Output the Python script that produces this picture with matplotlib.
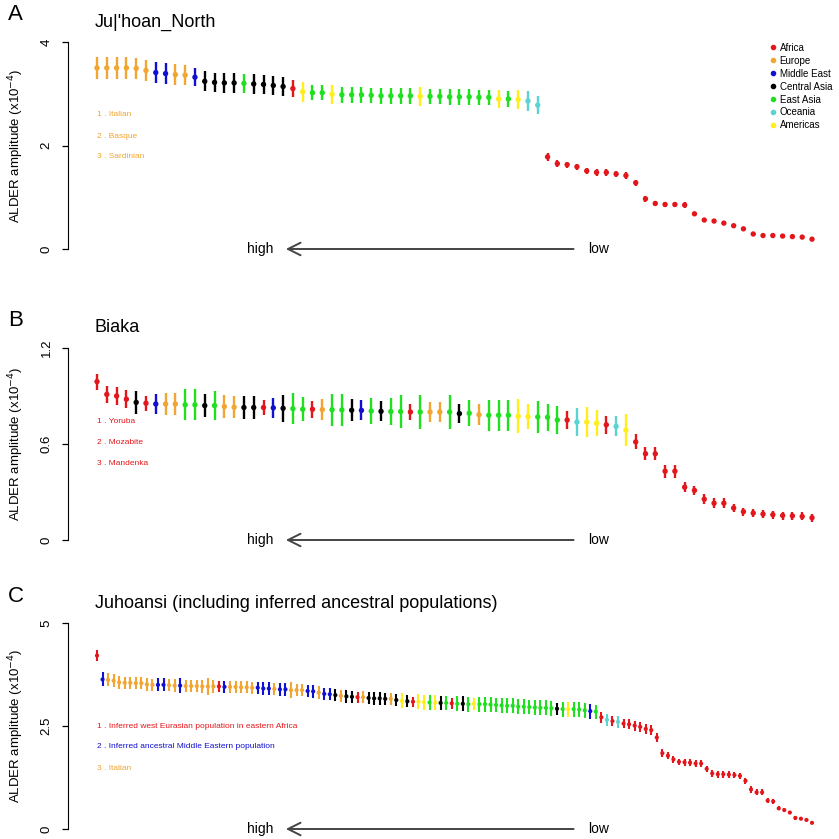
import numpy as np
import matplotlib
matplotlib.use("Agg")
import matplotlib.pyplot as plt
import matplotlib.transforms as mtransforms
from matplotlib.lines import Line2D

plt.rcParams['font.family'] = ['Liberation Sans', 'DejaVu Sans']

# ----------------------------------
# Data
# ----------------------------------

region_names = ["Africa", "Europe", "Middle East", "Central Asia", "East Asia", "Oceania", "Americas"]
region_colors = {"R": "#E3161B", "O": "#F2A531", "B": "#1010D0", "K": "#000000",
                 "G": "#1EE01E", "C": "#5CD3D3", "Y": "#FFEE1A"}
legend_codes = ["R", "O", "B", "K", "G", "C", "Y"]

# panel A: Ju|'hoan_North
a_groups = ("OOOOOO" "BB" "OO" "B" "KKKK" "G" "KKKK" "R" "Y" "GG" "Y" "GGGGGGGG" "Y"
            "GGGGGGG" "Y" "G" "Y" "CC" + "R" * 28)
a_vals = [3.50, 3.50, 3.50, 3.50, 3.49, 3.45, 3.41, 3.39, 3.37, 3.36,
          3.32, 3.24, 3.22, 3.21, 3.21, 3.20, 3.19, 3.18, 3.16, 3.14,
          3.10, 3.04, 3.02, 3.02, 2.99, 2.98, 2.98, 2.98, 2.97, 2.96,
          2.96, 2.96, 2.96, 2.95, 2.95, 2.95, 2.94, 2.94, 2.94, 2.93,
          2.93, 2.90, 2.90, 2.89, 2.86, 2.78, 1.78, 1.65, 1.63, 1.59,
          1.51, 1.48, 1.48, 1.45, 1.42, 1.28, 0.97, 0.88, 0.86, 0.86,
          0.85, 0.68, 0.56, 0.54, 0.50, 0.45, 0.39, 0.29, 0.26, 0.26,
          0.25, 0.24, 0.23, 0.19]
a_err = [0.21, 0.21, 0.21, 0.21, 0.21, 0.21, 0.20, 0.20, 0.20, 0.19,
         0.17, 0.19, 0.19, 0.19, 0.19, 0.19, 0.19, 0.19, 0.18, 0.18,
         0.17, 0.19, 0.15, 0.15, 0.18, 0.15, 0.15, 0.15, 0.15, 0.15,
         0.15, 0.15, 0.15, 0.18, 0.15, 0.15, 0.15, 0.15, 0.15, 0.15,
         0.15, 0.18, 0.15, 0.18, 0.19, 0.18, 0.08, 0.07, 0.06, 0.06,
         0.06, 0.06, 0.06, 0.06, 0.06, 0.06, 0.06, 0.05, 0.05, 0.05,
         0.05, 0.03, 0.03, 0.03, 0.03, 0.03, 0.03, 0.02, 0.02, 0.02,
         0.02, 0.02, 0.02, 0.02]
a_notes = ["1 . Italian", "2 . Basque", "3 . Sardinian"]

# panel B: Biaka
b_groups = ("RRRR" "K" "R" "B" "OO" "GG" "K" "G" "OO" "KK" "R" "B" "K" "GG" "R" "O" "GG"
            "K" "B" "G" "K" "GG" "R" "G" "OO" "G" "K" "G" "O" "GGG" "YY" "GGG" "R" "C"
            "YY" "R" "C" "Y" + "R" * 19)
b_vals = [0.990, 0.910, 0.900, 0.880, 0.860, 0.855, 0.850, 0.850, 0.850, 0.845,
          0.845, 0.840, 0.840, 0.834, 0.830, 0.828, 0.828, 0.828, 0.826, 0.823,
          0.821, 0.817, 0.817, 0.815, 0.814, 0.813, 0.811, 0.810, 0.806, 0.804,
          0.803, 0.803, 0.800, 0.800, 0.800, 0.800, 0.800, 0.790, 0.792, 0.783,
          0.780, 0.780, 0.780, 0.773, 0.771, 0.769, 0.767, 0.750, 0.750, 0.737,
          0.737, 0.730, 0.720, 0.710, 0.687, 0.613, 0.539, 0.539, 0.430, 0.430,
          0.330, 0.310, 0.255, 0.230, 0.230, 0.200, 0.177, 0.168, 0.162, 0.158,
          0.153, 0.151, 0.147, 0.139]
b_err = [0.050, 0.055, 0.055, 0.055, 0.070, 0.047, 0.063, 0.067, 0.067, 0.097,
         0.097, 0.074, 0.090, 0.070, 0.070, 0.072, 0.072, 0.045, 0.063, 0.084,
         0.095, 0.074, 0.053, 0.065, 0.100, 0.100, 0.068, 0.063, 0.080, 0.063,
         0.084, 0.105, 0.050, 0.108, 0.060, 0.060, 0.104, 0.058, 0.082, 0.067,
         0.098, 0.098, 0.098, 0.107, 0.080, 0.100, 0.083, 0.090, 0.058, 0.087,
         0.093, 0.080, 0.055, 0.063, 0.100, 0.047, 0.040, 0.040, 0.040, 0.040,
         0.030, 0.030, 0.030, 0.030, 0.030, 0.025, 0.025, 0.025, 0.025, 0.025,
         0.025, 0.025, 0.025, 0.025]
b_notes = ["1 . Yoruba", "2 . Mozabite", "3 . Mandenka"]

# panel C: Juhoansi (including inferred ancestral populations)
c_groups = ("R" "B" "OOOOOOOOO" "BB" "OO" "B" "OOOOOO" "R" "B" "OOOOO" "BBB" "O" "BB"
            "OOO" "BB" "O" "BB" "K" "O" "KK" "R" "O" "KKKK" "O" "K" "Y" "K" "R" "YY"
            "G" "Y" "K" "G" "R" "G" "K" "G" "Y" "GGGGGGGGGGGGGG" "K" "G" "Y" "GGG" "B"
            "G" "R" "C" "R" "C" + "R" * 35)
c_vals = [4.21, 3.63, 3.62, 3.60, 3.56, 3.55, 3.55, 3.54, 3.54, 3.51,
          3.50, 3.50, 3.50, 3.49, 3.48, 3.48, 3.47, 3.47, 3.47, 3.46,
          3.46, 3.46, 3.46, 3.45, 3.45, 3.45, 3.44, 3.44, 3.43, 3.43,
          3.41, 3.41, 3.40, 3.39, 3.39, 3.37, 3.37, 3.37, 3.35, 3.34,
          3.31, 3.28, 3.27, 3.25, 3.23, 3.22, 3.21, 3.20, 3.20, 3.18,
          3.17, 3.17, 3.16, 3.16, 3.13, 3.11, 3.10, 3.09, 3.09, 3.08,
          3.07, 3.07, 3.06, 3.06, 3.05, 3.04, 3.04, 3.03, 3.04, 3.03,
          3.03, 3.02, 3.01, 3.00, 2.99, 2.99, 2.97, 2.97, 2.96, 2.95,
          2.94, 2.94, 2.93, 2.92, 2.91, 2.91, 2.91, 2.90, 2.88, 2.86,
          2.85, 2.71, 2.65, 2.62, 2.60, 2.56, 2.54, 2.51, 2.48, 2.43,
          2.40, 2.22, 1.84, 1.78, 1.69, 1.63, 1.62, 1.61, 1.59, 1.59,
          1.46, 1.35, 1.33, 1.33, 1.32, 1.31, 1.29, 1.17, 0.96, 0.89,
          0.89, 0.69, 0.67, 0.50, 0.46, 0.40, 0.27, 0.25, 0.22, 0.15]
c_err = [0.14, 0.17, 0.16, 0.16, 0.15, 0.15, 0.15, 0.15, 0.15, 0.15,
         0.15, 0.16, 0.16, 0.15, 0.15, 0.18, 0.15, 0.15, 0.15, 0.15,
         0.20, 0.15, 0.13, 0.15, 0.15, 0.15, 0.15, 0.15, 0.15, 0.15,
         0.15, 0.15, 0.15, 0.15, 0.15, 0.20, 0.15, 0.15, 0.15, 0.15,
         0.15, 0.15, 0.15, 0.15, 0.15, 0.15, 0.15, 0.13, 0.15, 0.15,
         0.15, 0.15, 0.15, 0.15, 0.15, 0.18, 0.15, 0.12, 0.18, 0.18,
         0.18, 0.18, 0.18, 0.18, 0.13, 0.18, 0.18, 0.18, 0.15, 0.18,
         0.18, 0.18, 0.18, 0.18, 0.18, 0.18, 0.18, 0.18, 0.18, 0.18,
         0.18, 0.18, 0.18, 0.15, 0.18, 0.18, 0.18, 0.18, 0.18, 0.18,
         0.17, 0.13, 0.15, 0.12, 0.15, 0.12, 0.12, 0.12, 0.12, 0.12,
         0.12, 0.12, 0.10, 0.09, 0.09, 0.08, 0.08, 0.08, 0.08, 0.08,
         0.08, 0.08, 0.08, 0.08, 0.08, 0.08, 0.08, 0.08, 0.08, 0.07,
         0.07, 0.06, 0.06, 0.05, 0.05, 0.04, 0.04, 0.03, 0.03, 0.03]
c_notes = ["1 . Inferred west Eurasian population in eastern Africa",
           "2 . Inferred ancestral Middle Eastern population",
           "3 . Italian"]
c_note_codes = ["R", "B", "O"]

panels = [
    ("A", "Ju|'hoan_North", a_groups, a_vals, a_err, [0, 2, 4], ["0", "2", "4"],
     a_notes, ["O", "O", "O"], 42, 249, 15),
    ("B", "Biaka", b_groups, b_vals, b_err, [0, 0.6, 1.2], ["0", "0.6", "1.2"],
     b_notes, ["R", "R", "R"], 348, 540, 15),
    ("C", "Juhoansi (including inferred ancestral populations)", c_groups, c_vals, c_err,
     [0, 2.5, 5], ["0", "2.5", "5"], c_notes, c_note_codes, 623, 829, 9),
]

# ----------------------------------
# Plot
# ----------------------------------

W = H = 839
fig = plt.figure(figsize=(W / 100, H / 100), dpi=100)

left_px, right_px = 68, 820
for letter, title, groups, vals, err, ticks, ticklabels, notes, note_codes, top_px, bot_px, dot_s in panels:
    ax = fig.add_axes([left_px / W, 1 - bot_px / H, (right_px - left_px) / W, (bot_px - top_px) / H])
    n = len(vals)
    x = np.arange(n)
    vals = np.array(vals)
    err = np.array(err)
    cols = [region_colors[g] for g in groups]

    # x range so first point sits ~29 px right of the axis line
    step = (812 - 97) / (n - 1)
    ax.set_xlim(-(97 - left_px) / step, (n - 1) + (right_px - 812) / step)
    ax.set_ylim(0, ticks[-1])

    ax.vlines(x, vals - err, vals + err, colors=cols, lw=1.7 if n < 100 else 1.5)
    ax.scatter(x, vals, c=cols, s=dot_s, zorder=3, linewidths=0)

    for s in ["top", "right", "bottom"]:
        ax.spines[s].set_visible(False)
    ax.spines["left"].set_bounds(ticks[0], ticks[-1])
    ax.set_xticks([])
    ax.set_yticks(ticks)
    ax.set_yticklabels(ticklabels, rotation=90, va="center", fontsize=9.5)
    ax.tick_params(axis="y", direction="out", length=4, width=0.9, pad=7)
    ax.set_ylabel(r"ALDER amplitude (x10$^{-4}$)", fontsize=9.5, va="center")
    ax.yaxis.set_label_coords((16 - left_px) / (right_px - left_px), 0.5)

    # panel letter and title
    fig.text(8 / W, 1 - (top_px - 27) / H, letter, fontsize=16, va="center", ha="left")
    fig.text(95 / W, 1 - (top_px - 20) / H, title, fontsize=13, va="center", ha="left")

    # top three sources
    for k, (note, code) in enumerate(zip(notes, note_codes)):
        ypx = top_px + (73 if letter != "C" else 103) + k * 21
        ax.text((97 - left_px) / (right_px - left_px), 1 - (ypx - top_px) / (bot_px - top_px),
                note, transform=ax.transAxes, fontsize=6, color=region_colors[code],
                va="center", ha="left")

    # high <- low arrow
    blend = mtransforms.blended_transform_factory(ax.transAxes, ax.transData)
    ax.annotate("", xy=(0.286, 0), xytext=(0.676, 0),
                xycoords=blend, textcoords=blend,
                arrowprops=dict(arrowstyle="->,head_length=0.9,head_width=0.45",
                                color="#444444", lw=1.4), annotation_clip=False)
    ax.text(0.255, 0, "high", transform=blend, fontsize=10, ha="center", va="center", clip_on=False)
    ax.text(0.705, 0, "low", transform=blend, fontsize=10, ha="center", va="center", clip_on=False)

    if letter == "A":
        handles = [Line2D([], [], marker="o", ls="", color=region_colors[c], markersize=3)
                   for c in legend_codes]
        fig.legend(handles, region_names, loc="upper left",
                   bbox_to_anchor=(762 / W, 1 - 38 / H), frameon=False, fontsize=7,
                   handletextpad=0.1, labelspacing=0.3, handlelength=1.2, borderpad=0)

fig.savefig("out.png", dpi=100)
